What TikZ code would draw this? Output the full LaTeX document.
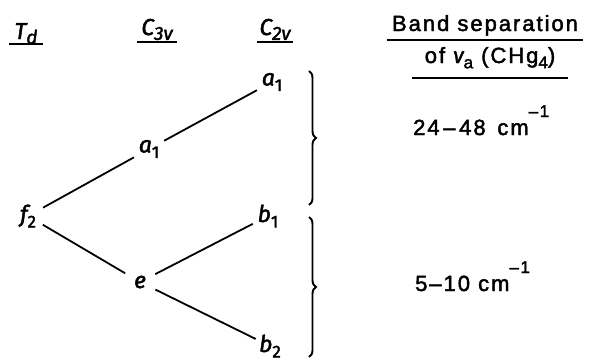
\documentclass[tikz,border=0pt]{standalone}
\usepackage{fontspec}
\setmainfont{Liberation Sans}
\newfontfamily\spaced[LetterSpace=9,FakeBold=2]{Liberation Sans}
\newfontfamily\labfont[FakeBold=2]{Fira Sans}
\usetikzlibrary{decorations.pathreplacing}
\newcommand\lsub[1]{\raisebox{-0.45ex}{\fontsize{17}{17}\selectfont\upshape #1}}
\newcommand\hsub[1]{\raisebox{-0.4ex}{\fontsize{19}{19}\selectfont #1}}
\newcommand\lsup[1]{\raisebox{18pt}{\fontsize{17}{17}\selectfont #1}}
\begin{document}
\begin{tikzpicture}[x=1pt,y=-1pt,
  hdr/.style={inner sep=0pt, anchor=base, font=\fontsize{23}{24}\selectfont\labfont\itshape},
  txt/.style={inner sep=0pt, anchor=base west, font=\fontsize{22}{24}\selectfont\spaced},
  lab/.style={circle, inner sep=0pt, minimum size=34pt, font=\fontsize{23}{24}\selectfont\labfont\itshape},
  conn/.style={line width=1.8pt},
  ul/.style={line width=1.8pt},
  brc/.style={decorate, decoration={brace, amplitude=7pt}, line width=1.9pt}]
\useasboundingbox (0,0) rectangle (601,362);
% headers
\node[hdr, minimum width=34pt] (td) at (26,39) {T\hsub{d}};
\node[hdr, minimum width=39pt] (c3v) at (157,35) {C\hsub{3v}};
\node[hdr, minimum width=35pt] (c2v) at (275,35) {C\hsub{2v}};
\draw[ul] ([yshift=-5pt]td.base west) -- ([yshift=-5pt]td.base east);
\draw[ul] ([yshift=-7pt]c3v.base west) -- ([yshift=-7pt]c3v.base east);
\draw[ul] ([yshift=-7pt]c2v.base west) -- ([yshift=-7pt]c2v.base east);
\node[txt, anchor=base, minimum width=196pt] (bs) at (485,31) {Band separation};
\node[txt, anchor=base, minimum width=156pt] (of) at (490,63) {of {\labfont\itshape ν}\lsub{a} (CHg\lsub{4})};
\draw[ul] ([yshift=-9pt]bs.base west) -- ([yshift=-9pt]bs.base east);
\draw[ul] ([yshift=-15pt]of.base west) -- ([yshift=-15pt]of.base east);
% levels
\node[lab] (f2) at (28,216) {f\lsub{2}};
\node[lab] (a1) at (149,149) {a\lsub{1}};
\node[lab] (e) at (140,282) {e};
\node[lab] (a1b) at (272,82) {a\lsub{1}};
\node[lab] (b1) at (268,216) {b\lsub{1}};
\node[lab, minimum size=26pt] (b2) at (270,346) {b\lsub{2}};
\draw[conn] (f2) -- (a1);
\draw[conn] (f2) -- (e);
\draw[conn] (a1) -- (a1b);
\draw[conn] (e) -- (b1);
\draw[conn] (e) -- (b2);
% braces
\coordinate (br1t) at (309,71);
\coordinate (br1b) at (309,205);
\coordinate (br2t) at (309,217);
\coordinate (br2b) at (309,357);
\draw[brc] (br1t) -- (br1b);
\draw[brc] (br2t) -- (br2b);
\node[txt] (s1) at (413,135) {24\,–\,48\, cm\lsup{–1}};
\node[txt] (s2) at (415,291) {5–10 cm\lsup{–1}};
\end{tikzpicture}
\end{document}
